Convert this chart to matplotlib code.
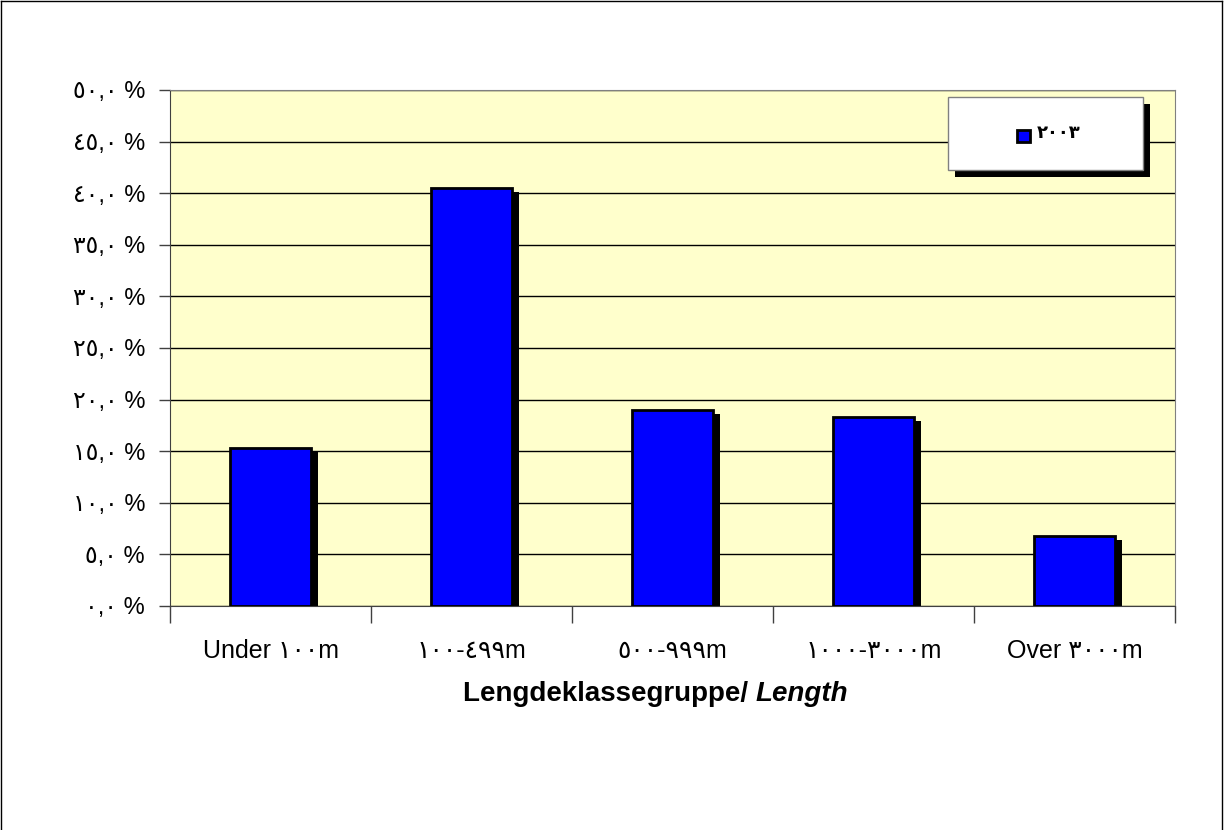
import matplotlib.pyplot as plt
from matplotlib.patches import Rectangle
from matplotlib.lines import Line2D
import numpy as np

categories = ['Under 100m', '100-499m', '500-999m', '1000-3000m', 'Over 3000m']
values = [15.3, 40.5, 19.0, 18.3, 6.8]
series_name = '2003'
y_ticks = [0, 5, 10, 15, 20, 25, 30, 35, 40, 45, 50]

AR = str.maketrans('0123456789', '٠١٢٣٤٥٦٧٨٩')

def arabic(s):
  return s.translate(AR)

plt.rcParams['font.family'] = ['Liberation Sans', 'DejaVu Sans']

fig = plt.figure(figsize=(12.25, 8.3), dpi=100)
ax = fig.add_axes([0.1388, 0.2699, 0.8204, 0.6217])
ax.set_facecolor('#FFFFCC')

x = np.arange(len(categories))
width = 0.4
# shadow bars
dx, dy = 0.035, 0.39
ax.bar(x + dx, [v - dy for v in values], width, color='black', zorder=2)
ax.bar(x, values, width, color='#0000FF', edgecolor='black', linewidth=2, zorder=3)

ax.set_xlim(-0.5, len(categories) - 0.5)
ax.set_ylim(0, 50)
ax.set_yticks(y_ticks)
ax.set_yticklabels([arabic('%d,0 %%' % t) for t in y_ticks], fontsize=17)
ax.yaxis.grid(True, color='black', linewidth=1, zorder=1)
ax.set_axisbelow(True)

ax.set_xticks(np.arange(-0.5, len(categories)), labels=[])
ax.set_xticks(x, labels=[arabic(c) for c in categories], minor=True, fontsize=18)
ax.tick_params(axis='x', which='major', length=12, width=1, color='#404040')
ax.tick_params(axis='x', which='minor', length=0, pad=24)
ax.tick_params(axis='y', length=8, width=1, color='#404040', pad=10)

for s in ['top', 'right']:
  ax.spines[s].set_color('#808080')
ax.spines['left'].set_color('#404040')
ax.spines['bottom'].set_color('#404040')

# x axis title: bold part + bold italic part
ylab = 1 - 694 / 830
fig.text(756 / 1225, ylab, 'Lengdeklassegruppe/ ', fontsize=20, fontweight='bold', ha='right', va='center')
fig.text(756 / 1225, ylab, 'Length', fontsize=20, fontweight='bold', fontstyle='italic', ha='left', va='center')

# legend box with shadow
fig.patches.append(Rectangle((955 / 1225, 1 - 177 / 830), 195 / 1225, 73 / 830,
                             transform=fig.transFigure, facecolor='black', edgecolor='none', zorder=5))
fig.patches.append(Rectangle((948 / 1225, 1 - 170 / 830), 195 / 1225, 73 / 830,
                             transform=fig.transFigure, facecolor='white', edgecolor='#808080', linewidth=1, zorder=6))
fig.patches.append(Rectangle((1017 / 1225, 1 - 142 / 830), 13 / 1225, 12 / 830,
                             transform=fig.transFigure, facecolor='#0000FF', edgecolor='black', linewidth=2, zorder=7))
fig.text(1037 / 1225, 1 - 133 / 830, arabic(series_name), fontsize=13, fontweight='bold', va='center', ha='left', zorder=8)

# outer border
for xs, ys in [([0.001, 0.001], [0, 0.999]), ([0.001, 0.9975], [0.999, 0.999]), ([0.9975, 0.9975], [0, 0.999])]:
  fig.add_artist(Line2D(xs, ys, transform=fig.transFigure, color='black', linewidth=1))

fig.savefig('out.png', dpi=100)
